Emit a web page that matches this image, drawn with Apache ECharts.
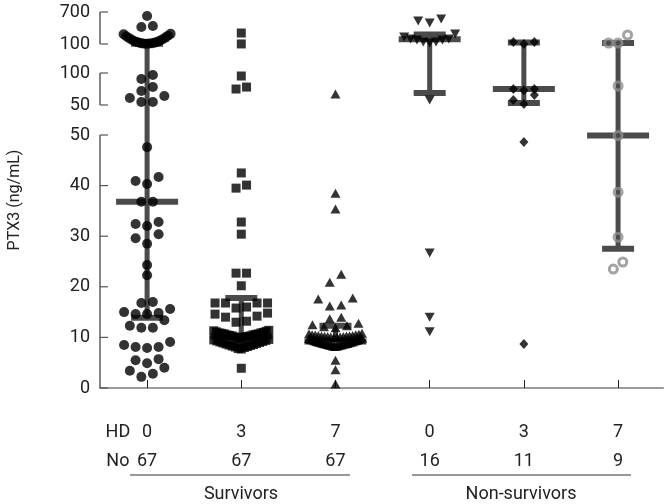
<!DOCTYPE html>
<html><head><meta charset="utf-8">
<script src="https://cdn.jsdelivr.net/npm/echarts@6/dist/echarts.min.js"></script>
<style>html,body{margin:0;padding:0;background:#fff}#c{width:668px;height:504px}</style>
</head><body><div id="c"></div>
<script>
// ---------------- data ----------------
const hdLabels = ['0', '3', '7', '0', '3', '7'];
const nLabels = ['67', '67', '67', '16', '11', '9'];
const groupNames = ['Survivors', 'Non-survivors'];
const yTicksSeg1 = [0, 10, 20, 30, 40, 50];
const yTicksSeg2 = [50, 100];
const yTicksSeg3 = [100, 700];

const survHD0 = [625, 437, 419,
  104, 106, 108, 112, 115, 122, 126, 138, 142, 158, 164, 183, 190, 212, 220, 246, 254, 282, 290,
  96.9, 90.6, 78, 71.9, 64, 61, 54.7, 54.7,
  47.6, 41.7, 40.9, 40.3, 36.8, 36.8, 32.8, 32.4, 32.0, 30.4, 29.6, 28.5, 24.3, 22.3,
  17.0, 16.8, 15.6, 15.0, 14.8, 14.6, 14.6, 13.4, 12.3, 11.9, 11.9,
  9.1, 8.5, 8.1, 8.1, 7.9, 5.7, 5.5, 4.9, 4.0, 3.4, 2.8, 2.2];
const survHD3 = [306, 101, 95.3, 78, 75,
  42.5, 40.1, 39.5, 32.8, 30.4, 22.7, 22.7, 20.2,
  16.8, 16.8, 16.8, 16.8, 16.0, 15.8, 14.8, 14.6, 14.2, 14.0, 13.2, 13.0,
  11.4, 11.3, 11.2, 11.1, 11.0, 10.9, 10.9, 10.8, 10.7, 10.7, 10.6, 10.5, 10.5, 10.4, 10.3, 10.3,
  10.2, 10.1, 10.1, 10.0, 9.9, 9.8,
  9.6, 9.5, 9.4, 9.3, 9.2, 9.1, 9.0, 8.9, 8.8, 8.7, 8.6, 8.5, 8.4, 8.3, 8.2, 8.1, 8.0, 7.8, 7.7,
  3.9];
const survHD7 = [67.2,
  38.5, 35.4, 22.5, 20.9, 17.8, 17.6, 16.4, 16.2, 14.0, 13.7, 12.8, 12.5, 12.3, 12.1, 11.9,
  10.8, 10.7, 10.6, 10.5, 10.5, 10.45, 10.4, 10.4, 10.35, 10.3, 10.3, 10.25, 10.2, 10.2, 10.1, 10.1, 10.05, 10.0,
  9.9, 9.8, 9.7, 9.6, 9.55, 9.5, 9.4, 9.35, 9.3, 9.2, 9.15, 9.1, 9.05, 9.0, 8.95,
  8.9, 8.85, 8.8, 8.75, 8.7, 8.65, 8.6, 8.55, 8.5, 8.45, 8.4, 8.35, 8.3, 8.25, 8.2,
  5.5, 3.6, 0.8];
const nonHD0 = [569, 531, 494, 287, 231, 194, 194, 175, 175, 137.5, 137.5, 119, 57.8, 26.7, 14.0, 11.1];
const nonHD3 = [137, 137, 101, 75, 75, 73, 65.6, 57.8, 51.6, 48.6, 8.7];
const nonHD7 = [269, 119, 119, 79.7, 49.9, 38.7, 29.8, 24.9, 23.5];

const medians = [36.8, 10.2, 9.2, 190, 75, 49.9];
const lowerQuartiles = [13.9, 8.6, 8.5, 68.8, 53, 27.5];
const upperQuartiles = [104, 17.8, 12.3, 280, 130, 119];

// ---------------- layout / style ----------------
const FONT = "Roboto,'Liberation Sans',sans-serif";
const GRID = {left: 100, right: 5, top: 12, bottom: 116, outerBoundsMode: 'none', containLabel: false};
const X_MIN = -0.5, X_MAX = 5.477;
const PX_PER_X = (668 - GRID.left - GRID.right) / (X_MAX - X_MIN);
// broken axis: value ranges mapped onto axis units (1 unit = 1 px)
const SEGS = [
  {v0: 0, v1: 50, p0: 0, p1: 253, ticks: yTicksSeg1},
  {v0: 50, v1: 100, p0: 283, p1: 315, ticks: yTicksSeg2},
  {v0: 100, v1: 700, p0: 344, p1: 376, ticks: yTicksSeg3}
];
function segOf(v) { return v <= 50 ? SEGS[0] : (v < 100 ? SEGS[1] : SEGS[2]); }
function mapIn(seg, v) { return seg.p0 + (v - seg.v0) / (seg.v1 - seg.v0) * (seg.p1 - seg.p0); }
function toP(v) { return mapIn(segOf(v), v); }

const groupsData = [survHD0, survHD3, survHD7, nonHD0, nonHD3, nonHD7];
const symStyle = [
  {symbol: 'circle', size: 10, rowH: 10, span: 47, item: {color: '#000'}},
  {symbol: 'rect', size: 9, rowH: 10, span: 55, item: {color: '#000'}},
  {symbol: 'triangle', size: [10, 9], rowH: 9, span: 53, item: {color: '#000'}},
  {symbol: 'triangle', size: [10, 9], rotate: 180, rowH: 10, span: 51, item: {color: '#000'}},
  {symbol: 'diamond', size: [9, 10], rowH: 10, span: 40, item: {color: '#000'}},
  {symbol: 'circle', size: 8, rowH: 10, span: 40, item: {color: 'rgba(0,0,0,0)', borderColor: '#8c8c8c', borderWidth: 3}}
];

// Prism-like dot arrangement: bin close values into rows, spread center-out
function swarm(values, st, gi) {
  const w = Array.isArray(st.size) ? st.size[0] : st.size;
  const pts = values.map(v => ({v, p: toP(v)})).sort((a, b) => a.p - b.p || a.v - b.v);
  const out = [];
  let i = 0;
  while (i < pts.length) {
    const p0 = pts[i].p; let j = i;
    while (j < pts.length && pts[j].p - p0 < st.rowH) j++;
    const n = j - i;
    const s = n > 1 ? Math.min(w + 1.5, st.span / (n - 1)) : 0;
    for (let k = 0; k < n; k++) {
      let off;
      if (n % 2 === 1) { const m = Math.ceil(k / 2); off = k === 0 ? 0 : (k % 2 === 1 ? -m : m); }
      else { const m = Math.floor(k / 2) + 0.5; off = k % 2 === 0 ? -m : m; }
      const pt = pts[i + k];
      out.push([gi + off * s / PX_PER_X, pt.p, pt.v]);
    }
    i = j;
  }
  return out;
}

const yLabelVals = [], yLabelTexts = [];
SEGS.forEach(seg => seg.ticks.forEach(t => { yLabelVals.push(mapIn(seg, t)); yLabelTexts.push(String(t)); }));

const scatterSeries = groupsData.map((vals, gi) => {
  const st = symStyle[gi];
  return {
    type: 'scatter', z: 3, silent: true,
    symbol: st.symbol, symbolSize: st.size, symbolRotate: st.rotate || 0,
    itemStyle: st.item,
    data: swarm(vals, st, gi)
  };
});

const BAR_COLOR = '#4b4b4b';
const barSeries = {
  type: 'custom', z: 2, silent: true,
  data: medians.map((m, i) => [i, toP(lowerQuartiles[i]), toP(m), toP(upperQuartiles[i])]),
  renderItem: function (params, api) {
    const x = api.value(0);
    const a = api.coord([x, api.value(1)]);
    const m = api.coord([x, api.value(2)]);
    const b = api.coord([x, api.value(3)]);
    const ls = {stroke: BAR_COLOR, lineWidth: 5};
    const lh = {stroke: BAR_COLOR, lineWidth: 6};
    return {type: 'group', children: [
      {type: 'line', shape: {x1: a[0], y1: a[1], x2: b[0], y2: b[1]}, style: ls},
      {type: 'line', shape: {x1: m[0] - 31, y1: m[1], x2: m[0] + 31, y2: m[1]}, style: lh},
      {type: 'line', shape: {x1: a[0] - 16, y1: a[1], x2: a[0] + 16, y2: a[1]}, style: lh},
      {type: 'line', shape: {x1: b[0] - 16, y1: b[1], x2: b[0] + 16, y2: b[1]}, style: lh}
    ]};
  }
};

const axisSeries = {
  type: 'custom', z: 1, silent: true,
  data: SEGS.map((s, i) => [X_MIN, s.p0, s.p1, i]),
  renderItem: function (params, api) {
    const seg = SEGS[api.value(3)];
    const top = api.coord([X_MIN, seg.p1]);
    const bot = api.coord([X_MIN, seg.p0]);
    const ch = [{type: 'line', shape: {x1: top[0], y1: top[1], x2: bot[0], y2: bot[1]}, style: {stroke: '#333', lineWidth: 1.2}}];
    seg.ticks.forEach(t => {
      const c = api.coord([X_MIN, mapIn(seg, t)]);
      ch.push({type: 'line', shape: {x1: c[0], y1: c[1], x2: c[0] + 8, y2: c[1]}, style: {stroke: '#555', lineWidth: 1.2}});
    });
    return {type: 'group', children: ch};
  }
};

const chart = echarts.init(document.getElementById('c'), null, {renderer: 'canvas'});
chart.setOption({
  animation: false,
  backgroundColor: '#fff',
  grid: GRID,
  xAxis: {
    type: 'value', min: X_MIN, max: X_MAX,
    splitLine: {show: false},
    axisLine: {show: true, lineStyle: {color: '#9a9a9a', width: 2}},
    axisTick: {show: true, inside: true, length: 8, customValues: [0, 1, 2, 3, 4, 5], lineStyle: {color: '#222', width: 1}},
    axisLabel: {
      show: true, customValues: [-0.31, 0, 1, 2, 3, 4, 5], margin: 30,
      fontFamily: FONT, fontSize: 18, color: '#222', lineHeight: 29,
      formatter: function (v) {
        if (v < -0.1) return 'HD\nNo';
        const i = Math.round(v);
        return hdLabels[i] + '\n' + nLabels[i];
      }
    }
  },
  yAxis: {
    type: 'value', min: 0, max: 376,
    splitLine: {show: false},
    axisLine: {show: false}, axisTick: {show: false},
    name: 'PTX3 (ng/mL)', nameLocation: 'middle', nameGap: 77,
    nameTextStyle: {fontFamily: FONT, fontSize: 16, color: '#222'},
    axisLabel: {
      show: true, customValues: yLabelVals, margin: 10,
      fontFamily: FONT, fontSize: 18, color: '#222',
      formatter: function (v) {
        let best = 0, bd = 1e9;
        yLabelVals.forEach((p, i) => { const d = Math.abs(p - v); if (d < bd) { bd = d; best = i; } });
        return yLabelTexts[best];
      }
    }
  },
  graphic: [
    {type: 'line', shape: {x1: 130, y1: 475, x2: 350, y2: 475}, style: {stroke: '#333', lineWidth: 1}},
    {type: 'line', shape: {x1: 412, y1: 475, x2: 631, y2: 475}, style: {stroke: '#333', lineWidth: 1}},
    {type: 'text', x: 241, y: 494, style: {text: groupNames[0], font: '18px ' + FONT, fill: '#222', align: 'center', verticalAlign: 'middle', textAlign: 'center', textVerticalAlign: 'middle'}},
    {type: 'text', x: 521, y: 494, style: {text: groupNames[1], font: '18px ' + FONT, fill: '#222', align: 'center', verticalAlign: 'middle', textAlign: 'center', textVerticalAlign: 'middle'}}
  ],
  series: [axisSeries, barSeries].concat(scatterSeries)
});
</script>
</body></html>
